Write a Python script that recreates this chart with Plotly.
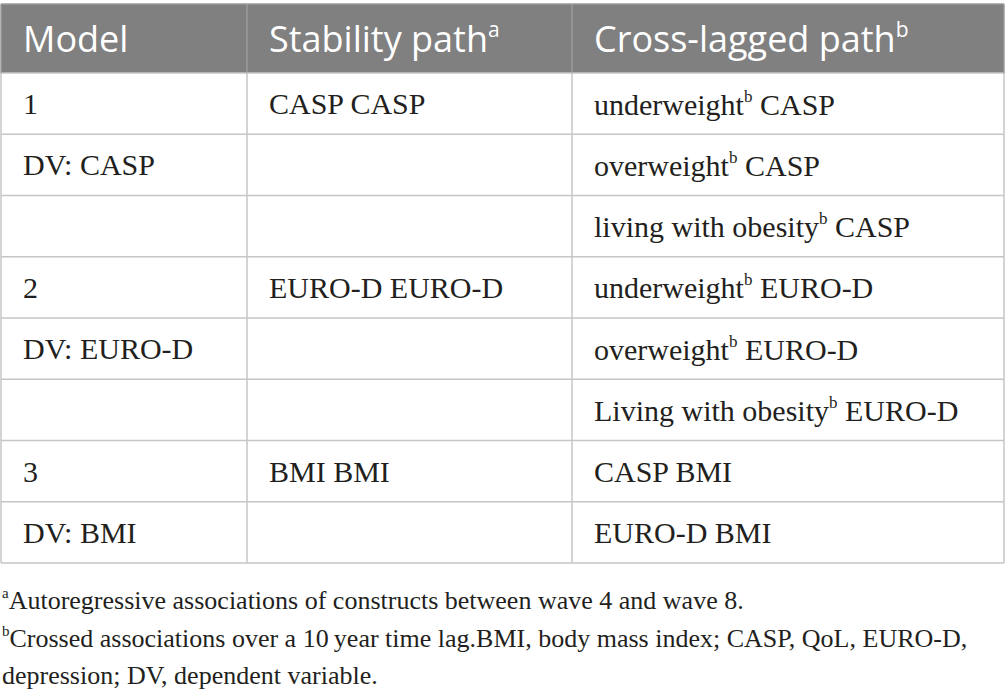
import plotly.graph_objects as go

# --- table content ---
header_labels = ["Model", "Stability path", "Cross-lagged path"]
header_marks = ["", "a", "b"]

model_col = ["1", "DV: CASP", "", "2", "DV: EURO-D", "", "3", "DV: BMI"]
stability_col = ["CASP CASP", "", "", "EURO-D EURO-D", "", "", "BMI BMI", ""]
cross_col = [
    "underweight<sup>b</sup> CASP",
    "overweight<sup>b</sup> CASP",
    "living with obesity<sup>b</sup> CASP",
    "underweight<sup>b</sup> EURO-D",
    "overweight<sup>b</sup> EURO-D",
    "Living with obesity<sup>b</sup> EURO-D",
    "CASP BMI",
    "EURO-D BMI",
]

footnotes = [
    "<sup>a</sup>Autoregressive associations of constructs between wave 4 and wave 8.",
    "<sup>b</sup>Crossed associations over a 10\u2009year time lag.BMI, body mass index; CASP, QoL, EURO-D,",
    "depression; DV, dependent variable.",
]

# --- layout constants (pixels) ---
W, H = 1005, 691
COL_W = [246, 325, 432]
LEFT, TOP = 1, 4
HEAD_H = 69
ROW_H = 61.25
INDENT = 20
LINE_COL = "#c6c6c6"
HEAD_FILL = "#808080"
TEXT_COL = "#231f20"


def small_sup(txt, px):
    # shrink superscripts a bit, the source uses small raised letters
    return txt.replace("<sup>", f"<sup><span style='font-size:{px}px'>").replace("</sup>", "</span></sup>")


col_edges = [LEFT]
for w in COL_W:
    col_edges.append(col_edges[-1] + w)
row_edges = [TOP, TOP + HEAD_H]
for _ in model_col:
    row_edges.append(row_edges[-1] + ROW_H)

columns = [model_col, stability_col, cross_col]

fig = go.Figure()

# header background
fig.add_shape(type="rect", x0=col_edges[0], x1=col_edges[-1],
              y0=row_edges[0], y1=row_edges[1],
              fillcolor=HEAD_FILL, line=dict(width=0), layer="below")

# horizontal rules
for i, yy in enumerate(row_edges):
    fig.add_shape(type="line", x0=col_edges[0], x1=col_edges[-1], y0=yy, y1=yy,
                  line=dict(color=LINE_COL if i > 0 else "#9a9a9a", width=1.5))

# vertical rules (lighter in header, grey in body)
for j, xx in enumerate(col_edges):
    outer = j in (0, len(col_edges) - 1)
    fig.add_shape(type="line", x0=xx, x1=xx, y0=row_edges[0], y1=row_edges[1],
                  line=dict(color="#9a9a9a" if outer else "#a8a8a8", width=1.5 if outer else 1))
    fig.add_shape(type="line", x0=xx, x1=xx, y0=row_edges[1], y1=row_edges[-1],
                  line=dict(color=LINE_COL, width=1.5))

# header text
for j, (lab, mark) in enumerate(zip(header_labels, header_marks)):
    txt = lab + (f"<sup>{mark}</sup>" if mark else "")
    fig.add_annotation(
        text=small_sup(txt, 21), x=col_edges[j] + INDENT, y=(row_edges[0] + row_edges[1]) / 2,
        xanchor="left", yanchor="middle", showarrow=False,
        font=dict(family="Open Sans", size=36, color="white"),
    )

# body text
for j, col in enumerate(columns):
    for i, val in enumerate(col):
        if not val:
            continue
        fig.add_annotation(
            text=small_sup(val, 17), x=col_edges[j] + INDENT, y=(row_edges[i + 1] + row_edges[i + 2]) / 2,
            xanchor="left", yanchor="middle", showarrow=False,
            font=dict(family="Liberation Serif", size=30, color=TEXT_COL),
        )

# footnotes
foot_y = [600, 638, 675]
for txt, yy in zip(footnotes, foot_y):
    fig.add_annotation(
        text=small_sup(txt, 15), x=0, y=yy, xanchor="left", yanchor="middle", showarrow=False,
        font=dict(family="Liberation Serif", size=26, color=TEXT_COL),
    )

fig.update_xaxes(range=[0, W], visible=False, fixedrange=True)
fig.update_yaxes(range=[H, 0], visible=False, fixedrange=True)

fig.update_layout(
    width=W, height=H,
    margin=dict(l=0, r=0, t=0, b=0),
    paper_bgcolor="white",
    plot_bgcolor="white",
    showlegend=False,
)

fig.write_html("out.html", config={"displayModeBar": False},
               post_script="document.body.style.margin='0';")
